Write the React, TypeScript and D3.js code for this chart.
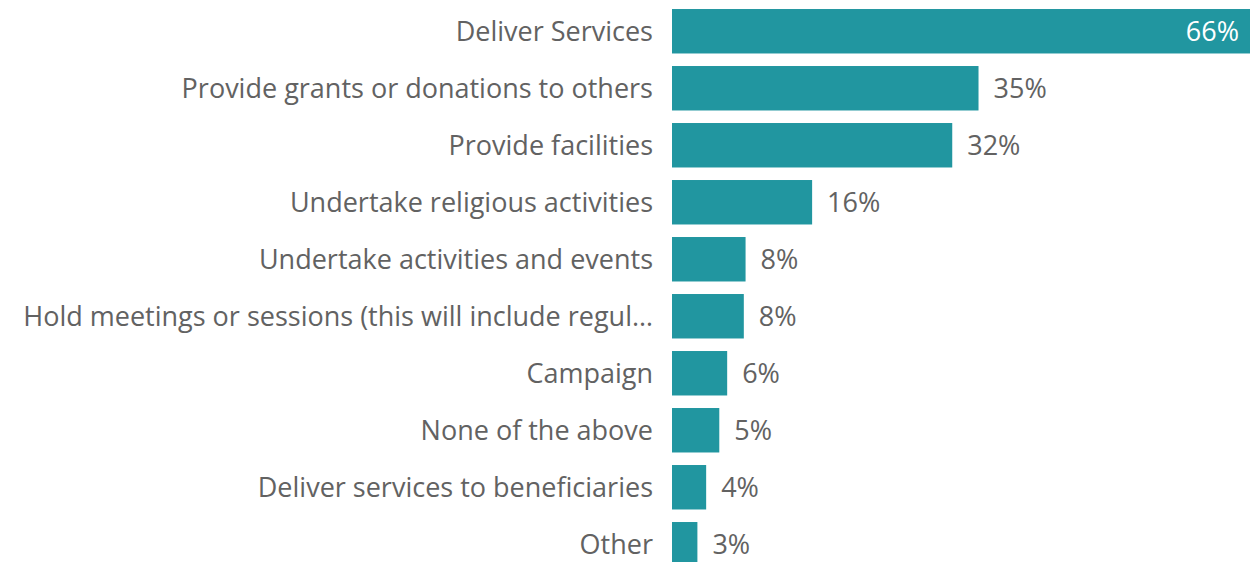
import { useMemo } from "react"
import * as d3 from "d3"

const categories = [
  "Deliver Services",
  "Provide grants or donations to others",
  "Provide facilities",
  "Undertake religious activities",
  "Undertake activities and events",
  "Hold meetings or sessions (this will include regul…",
  "Campaign",
  "None of the above",
  "Deliver services to beneficiaries",
  "Other",
]
const values = [66, 35, 32, 16, 8.4, 8.2, 6.3, 5.4, 3.9, 2.9]

const WIDTH = 1250
const HEIGHT = 562
const BAR = "#2196a0"
const TEXT = "#626262"
const FONT = "'Open Sans', 'Noto Sans', sans-serif"
const FONT_SIZE = 27

export default function App() {
  // bars start at 672, the 66% bar fills to the right edge
  const x = useMemo(() => d3.scaleLinear().domain([0, 66]).range([672, WIDTH]), [])
  const y = useMemo(
    () =>
      d3
        .scaleBand<string>()
        .domain(categories)
        .range([2.75, 572.75])
        .paddingInner(0.22)
        .paddingOuter(0.11),
    []
  )
  const fmt = (v: number) => `${Math.round(v)}%`

  return (
    <svg
      width={WIDTH}
      height={HEIGHT}
      style={{ position: "absolute", left: 0, top: 0, display: "block" }}
      fontFamily={FONT}
    >
      {categories.map((c, i) => {
        const v = values[i]
        const y0 = y(c) ?? 0
        const cy = y0 + y.bandwidth() / 2
        const inside = i === 0
        return (
          <g key={c}>
            <text
              x={x(0) - 19}
              y={cy}
              dy="0.35em"
              textAnchor="end"
              fontSize={FONT_SIZE}
              fill={TEXT}
            >
              {c}
            </text>
            <rect x={x(0)} y={y0} width={x(v) - x(0)} height={y.bandwidth()} fill={BAR} />
            <text
              x={inside ? x(v) - 11 : x(v) + 15}
              y={cy}
              dy="0.35em"
              textAnchor={inside ? "end" : "start"}
              fontSize={FONT_SIZE}
              fill={inside ? "#ffffff" : TEXT}
            >
              {fmt(v)}
            </text>
          </g>
        )
      })}
    </svg>
  )
}
